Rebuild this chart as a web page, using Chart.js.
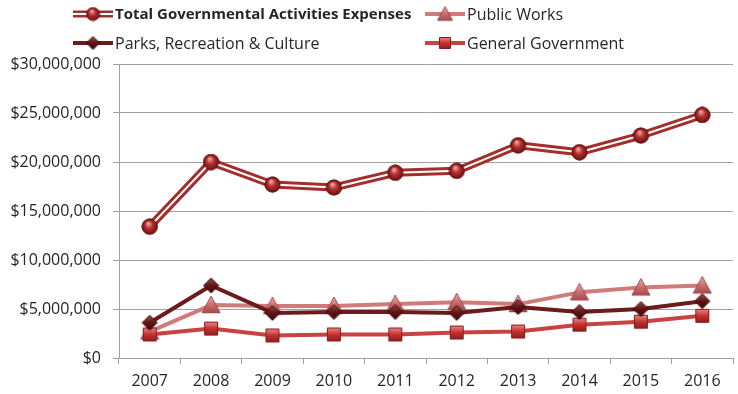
<!DOCTYPE html>
<html>
<head>
<meta charset="utf-8">
<title>Governmental Activities Expenses</title>
<script src="https://cdn.jsdelivr.net/npm/chart.js@4.4.1/dist/chart.umd.min.js"></script>
<style>
    html, body { margin: 0; padding: 0; background: #fff; overflow: hidden; }
    #wrap { width: 748px; height: 394px; }
</style>
</head>
<body>
<div id="wrap"><canvas id="chart" width="748" height="394"></canvas></div>
<script>
"use strict";

const years = ["2007", "2008", "2009", "2010", "2011", "2012", "2013", "2014", "2015", "2016"];
const totalExpenses = [13400000, 20000000, 17700000, 17400000, 18900000, 19100000, 21700000, 21000000, 22700000, 24800000];
const publicWorks = [2700000, 5400000, 5300000, 5300000, 5500000, 5700000, 5500000, 6700000, 7200000, 7400000];
const parksRecreation = [3600000, 7400000, 4600000, 4700000, 4700000, 4600000, 5200000, 4700000, 5000000, 5800000];
const generalGovernment = [2400000, 3000000, 2300000, 2400000, 2400000, 2600000, 2700000, 3400000, 3700000, 4300000];
const yTicks = [0, 5000000, 10000000, 15000000, 20000000, 25000000, 30000000];

const fontFamily = "'Open Sans', 'Liberation Sans', sans-serif";
const textColor = "#262626";
const gridColor = "#A0A0A0";

// small shaded marker images, drawn once and used as pointStyle
function makeMarker(shape, size, light, mid, dark) {
    const c = document.createElement("canvas");
    c.width = c.height = size + 2;
    const g = c.getContext("2d");
    const m = c.width / 2, h = size / 2;
    g.beginPath();
    if (shape === "sphere") {
        g.arc(m, m, h, 0, Math.PI * 2);
    } else if (shape === "triangle") {
        g.moveTo(m, m - h);
        g.lineTo(m + h, m + h * 0.85);
        g.lineTo(m - h, m + h * 0.85);
        g.closePath();
    } else if (shape === "diamond") {
        g.moveTo(m, m - h);
        g.lineTo(m + h, m);
        g.lineTo(m, m + h);
        g.lineTo(m - h, m);
        g.closePath();
    } else {
        g.rect(m - h + 0.5, m - h + 0.5, size - 1, size - 1);
    }
    let fill;
    if (shape === "sphere") {
        fill = g.createRadialGradient(m - h * 0.2, m - h * 0.45, h * 0.1, m, m, h);
        fill.addColorStop(0, light);
        fill.addColorStop(0.45, mid);
        fill.addColorStop(1, dark);
    } else {
        fill = g.createLinearGradient(0, m - h, 0, m + h);
        fill.addColorStop(0, light);
        fill.addColorStop(0.5, mid);
        fill.addColorStop(1, dark);
    }
    g.fillStyle = fill;
    g.fill();
    g.lineWidth = 1;
    g.strokeStyle = dark;
    g.stroke();
    return c;
}

const sphere = makeMarker("sphere", 15, "#EBA3A3", "#B53030", "#6E1414");
const triangle = makeMarker("triangle", 18, "#EBB0B0", "#CC6B6B", "#9A4848");
const diamond = makeMarker("diamond", 15, "#A34848", "#5E1616", "#3A0A0A");
const square = makeMarker("square", 14, "#EC8A8A", "#C73030", "#8A1C1C");

const sphereSmall = makeMarker("sphere", 13, "#EBA3A3", "#B53030", "#6E1414");
const triangleSmall = makeMarker("triangle", 15, "#EBB0B0", "#CC6B6B", "#9A4848");
const diamondSmall = makeMarker("diamond", 13, "#A34848", "#5E1616", "#3A0A0A");
const squareSmall = makeMarker("square", 12, "#EC8A8A", "#C73030", "#8A1C1C");

// the total series is a double line: red outer stroke with a white core
const doubleLine = {
    id: "doubleLine",
    afterDatasetDraw(chart, args) {
        if (args.index !== 0) return;
        const ctx = chart.ctx;
        const pts = args.meta.data;
        ctx.save();
        ctx.beginPath();
        pts.forEach((p, i) => i ? ctx.lineTo(p.x, p.y) : ctx.moveTo(p.x, p.y));
        ctx.lineWidth = 2;
        ctx.strokeStyle = "#ffffff";
        ctx.lineJoin = "round";
        ctx.stroke();
        ctx.restore();
        pts.forEach(p => p.draw(ctx, chart.chartArea));
    }
};

// two-column legend above the plot
const gridLegend = {
    id: "gridLegend",
    afterDraw(chart) {
        const ctx = chart.ctx;
        const cols = [73, 425];
        const rows = [14, 43];
        const icons = [sphereSmall, triangleSmall, diamondSmall, squareSmall];
        chart.data.datasets.forEach((ds, i) => {
            const x = cols[i % 2], y = rows[Math.floor(i / 2)];
            ctx.save();
            ctx.beginPath();
            ctx.moveTo(x, y);
            ctx.lineTo(x + 40, y);
            ctx.lineWidth = i === 0 ? 7 : ds.borderWidth;
            ctx.strokeStyle = ds.borderColor;
            ctx.stroke();
            if (i === 0) {
                ctx.lineWidth = 2;
                ctx.strokeStyle = "#ffffff";
                ctx.stroke();
            }
            const ic = icons[i];
            ctx.drawImage(ic, x + 20 - ic.width / 2, y - ic.height / 2);
            ctx.fillStyle = textColor;
            ctx.font = (i === 0 ? "bold 15px " : "16px ") + fontFamily;
            ctx.textBaseline = "middle";
            ctx.fillText(ds.label, x + 42, y + 1);
            ctx.restore();
        });
    }
};

const ctx = document.getElementById("chart").getContext("2d");

new Chart(ctx, {
    type: "line",
    data: {
        labels: years,
        datasets: [
            {
                label: "Total Governmental Activities Expenses",
                data: totalExpenses,
                borderColor: "#A32E2C",
                borderWidth: 8,
                pointStyle: sphere,
                order: 0
            },
            {
                label: "Public Works",
                data: publicWorks,
                borderColor: "#D27A7A",
                borderWidth: 4,
                pointStyle: triangle,
                order: 3
            },
            {
                label: "Parks, Recreation & Culture",
                data: parksRecreation,
                borderColor: "#6A1B1B",
                borderWidth: 4,
                pointStyle: diamond,
                order: 1
            },
            {
                label: "General Government",
                data: generalGovernment,
                borderColor: "#C94242",
                borderWidth: 4,
                pointStyle: square,
                order: 2
            }
        ]
    },
    options: {
        responsive: false,
        animation: false,
        events: [],
        elements: {
            line: { tension: 0, borderJoinStyle: "round", borderCapStyle: "round" },
            point: { radius: 7 }
        },
        layout: {
            padding: { top: 64, bottom: 5, left: 0, right: 0 }
        },
        plugins: {
            legend: { display: false },
            tooltip: { enabled: false }
        },
        scales: {
            x: {
                offset: true,
                afterFit: scale => {
                    scale.height = 31;
                },
                grid: {
                    offset: true,
                    drawOnChartArea: false,
                    tickLength: 6,
                    color: gridColor
                },
                border: { color: gridColor },
                ticks: {
                    padding: 8,
                    color: textColor,
                    font: { family: fontFamily, size: 16 }
                }
            },
            y: {
                min: 0,
                max: 30000000,
                afterBuildTicks: scale => {
                    scale.ticks = yTicks.map(v => ({ value: v }));
                },
                afterFit: scale => {
                    scale.width = 119;
                },
                grid: {
                    color: gridColor,
                    tickLength: 6
                },
                border: { color: gridColor },
                ticks: {
                    padding: 12,
                    color: textColor,
                    font: { family: fontFamily, size: 16 },
                    callback: v => "$" + v.toLocaleString("en-US")
                }
            }
        }
    },
    plugins: [doubleLine, gridLegend]
});
</script>
</body>
</html>
